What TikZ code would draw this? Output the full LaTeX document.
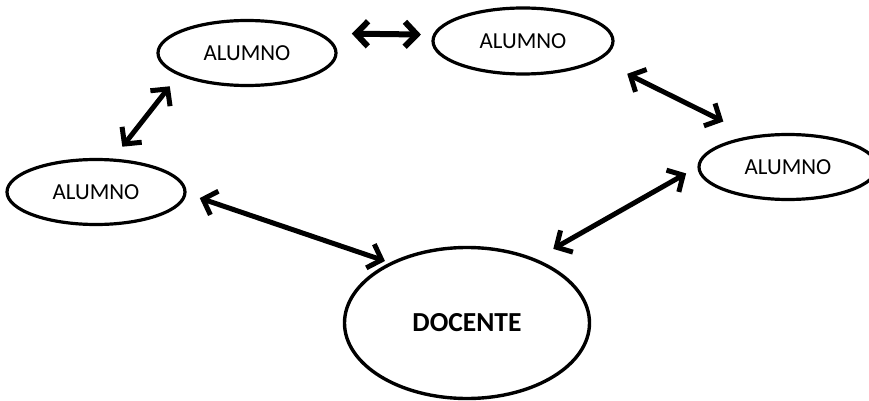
\documentclass[tikz,border=0pt]{standalone}
\usepackage{fontspec}
\setmainfont{Carlito}
\usetikzlibrary{
    shapes.geometric,
    arrows.meta,
    positioning
}

\begin{document}
\begin{tikzpicture}[
    x=1pt, y=-1pt,
    alumno/.style={ellipse, minimum width=178pt, minimum height=65pt, inner sep=0pt,
                   text centered, draw=black, line width=3.2pt,
                   font=\fontsize{22.9}{27}\selectfont},
    docente/.style={ellipse, minimum width=245pt, minimum height=151pt, inner sep=0pt,
                    text centered, draw=black, line width=3.4pt,
                    font=\fontsize{27.5}{32}\selectfont\bfseries},
    arrow/.style={line width=5pt,<->,>={Straight Barb[length=12pt,width=25pt]}}
]
    \useasboundingbox (0,0) rectangle (869,401);
    \clip (0,0) rectangle (869,401);

    % Nodes
    \node (alumnoA) [alumno] at (247,53) {ALUMNO};
    \node (alumnoB) [alumno, minimum width=180pt, minimum height=66pt] at (523,41) {ALUMNO};
    \node (alumnoC) [alumno] at (788,167) {ALUMNO};
    \node (alumnoD) [alumno] at (96,192) {ALUMNO};
    \node (docente) [docente] at (467,323) {DOCENTE};

    % Arrows
    \draw [arrow, line width=6pt, shorten <=31pt, shorten >=12pt] (alumnoA.15) -- (alumnoB.176);
    \draw [arrow, shorten <=14pt, shorten >=15pt] (alumnoA.198) -- (alumnoD.63);
    \draw [arrow, shorten <=14pt, shorten >=5pt] (alumnoD.359) -- (docente.142);
    \draw [arrow, shorten <=31pt, shorten >=32pt] (alumnoB.346) -- (alumnoC.139);
    \draw [arrow, shorten <=13pt, shorten >=20pt] (alumnoC.180) -- (docente.43);

\end{tikzpicture}
\end{document}
